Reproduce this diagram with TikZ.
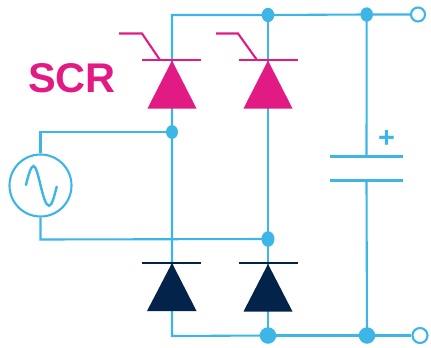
\documentclass[tikz,border=0pt]{standalone}
\usepackage{fontspec}
\usetikzlibrary{backgrounds}
\setmainfont{Liberation Sans}
\definecolor{wire}{HTML}{3DB5E6}
\definecolor{scr}{HTML}{E21A84}
\definecolor{navy}{HTML}{03234B}
\tikzset{
  wireline/.style={draw=wire,line width=2.1pt,line join=miter},
  junction/.style={circle,fill=wire,inner sep=0pt,minimum size=#1},
  terminal/.style={circle,draw=wire,fill=white,line width=2.1pt,inner sep=0pt,minimum size=14pt},
  valve/.style={fill=#1,draw=none},
  gatebar/.style={draw=#1,line width=2.1pt},
  txt/.style={font=\bfseries\fontsize{41.5}{42}\selectfont,text=scr,inner sep=0pt}
}
\begin{document}
\begin{tikzpicture}[x=1pt,y=-1pt]
\useasboundingbox (0,0) rectangle (431,348);
% junctions and terminals
\node[junction=12.5pt,yscale=1.15] (jt1) at (268,15) {};
\node[junction=12.5pt,yscale=1.15] (jt2) at (366.7,14.5) {};
\node[terminal] (tt) at (418,14.5) {};
\node[junction=12pt,yscale=1.15] (ja) at (172,132) {};
\node[junction=13pt,yscale=1.2] (jb) at (268,239) {};
\node[junction=16.5pt] (jb1) at (268,335.5) {};
\node[junction=16.5pt] (jb2) at (367,335.5) {};
\node[terminal,minimum size=15pt] (tb) at (420,335.5) {};
\node[circle,draw=wire,line width=2.1pt,fill=white,inner sep=0pt,minimum size=62pt] (src) at (40.5,185.5) {};
\coordinate (c1) at (366.5,156.5);
\coordinate (c2) at (366.5,180.5);
% wires
\begin{scope}[on background layer]
\draw[wireline] (jt1.center) -- (172,15) -- (ja.center) -- (172,336) -- (jb1.center);
\draw[wireline] (jt1.center) -- (jt2.center) -- (tt);
\draw[wireline] (jt1.center) -- (jb.center) -- (jb1.center);
\draw[wireline] (jb1.center) -- (jb2.center) -- (tb);
\draw[wireline] (jt2.center) -- (c1);
\draw[wireline] (c2) -- (jb2.center);
\draw[wireline] (ja.center) -- (40.5,132) -- (src.north);
\draw[wireline] (src.south) -- (40.5,239.5) -- (jb.center);
\end{scope}
\draw[wireline] (330,156.5) -- (403,156.5);
\draw[wireline] (330,180.5) -- (403,180.5);
% SCRs
\path[valve=scr] (172,60.5) -- (196.5,108.5) -- (147.5,108.5) -- cycle;
\path[valve=scr] (268,60.5) -- (292.5,108.5) -- (243.5,108.5) -- cycle;
\draw[gatebar=scr] (142,60) -- (201,60);
\draw[gatebar=scr] (239,60) -- (298,60);
\draw[gatebar=scr,line join=miter] (119,33.5) -- (142,33.5) -- (160,60);
\draw[gatebar=scr,line join=miter] (216,33.5) -- (238,33.5) -- (257,60);
% diodes
\path[valve=navy] (172,263) -- (196.5,311) -- (147,311) -- cycle;
\path[valve=navy] (268,264) -- (292.5,311.5) -- (243.5,311.5) -- cycle;
\draw[gatebar=navy] (142,262.7) -- (201,262.7);
\draw[gatebar=navy] (239,263.3) -- (298,263.3);
% source wave
\draw[draw=wire,line width=2.4pt,line cap=round]
  (26,185) .. controls (28,176) and (31,166) .. (33.5,166)
  .. controls (38.5,166) and (42.5,205.7) .. (49,205.7)
  .. controls (52,205.7) and (54,197) .. (56.7,186.7);
% labels
\node[txt] (lbl) at (72,78) {SCR};
\node[text=wire,font=\bfseries\fontsize{29}{29}\selectfont,inner sep=0pt] (plus) at (386.7,138.6) {+};
\end{tikzpicture}
\end{document}
